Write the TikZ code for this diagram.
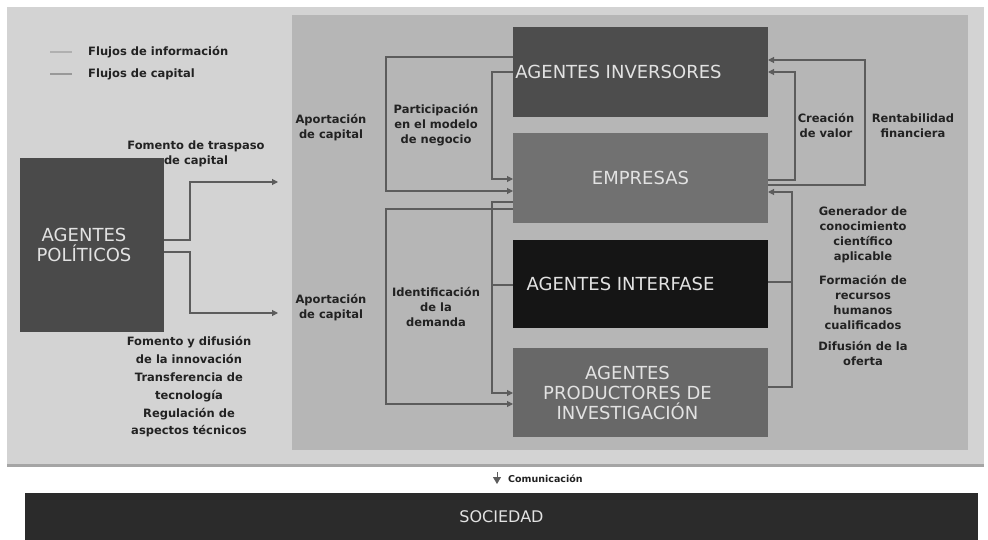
\documentclass[tikz,border=0pt]{standalone}
\usepackage{fontspec}
\setmainfont{DejaVu Sans}
\usetikzlibrary{arrows.meta}
\definecolor{outerbg}{HTML}{D3D3D3}
\definecolor{innerbg}{HTML}{B6B6B6}
\definecolor{invc}{HTML}{4D4D4D}
\definecolor{empc}{HTML}{717171}
\definecolor{intc}{HTML}{151515}
\definecolor{prodc}{HTML}{686868}
\definecolor{polc}{HTML}{4A4A4A}
\definecolor{socc}{HTML}{2B2B2B}
\definecolor{boxtxt}{HTML}{E2E2E2}
\definecolor{linec}{HTML}{5C5C5C}
\definecolor{lbltxt}{HTML}{222222}
\definecolor{infoc}{HTML}{B0B0B0}
\definecolor{capc}{HTML}{999999}
\definecolor{shadowc}{HTML}{A5A5A5}
\begin{document}
\begin{tikzpicture}[x=1pt,y=-1pt,
  agent/.style={rectangle,inner sep=0pt,outer sep=0pt,minimum width=255pt,text=boxtxt,font=\fontsize{18}{20}\selectfont,align=center},
  boxlbl/.style={text=boxtxt,font=\fontsize{18}{20}\selectfont,align=center,inner sep=0pt},
  lbl/.style={font=\bfseries\fontsize{11.5}{15}\selectfont,text=lbltxt,align=center,inner sep=0pt},
  flow/.style={draw=linec,line width=1.1pt},
  flowto/.style={flow,-{Triangle[length=6pt,width=6pt]}}
]
\useasboundingbox (0,0) rectangle (988,540);
\fill[white] (0,0) rectangle (988,540);
% panels
\fill[outerbg] (7,7) rectangle (984,464);
\draw[shadowc,line width=3pt] (7,465) -- (984,465);
\fill[innerbg] (292,15) rectangle (968,450);

% legend
\coordinate (lg1a) at (50,52); \coordinate (lg1b) at (72,52);
\coordinate (lg2a) at (50,74); \coordinate (lg2b) at (72,74);
\draw[infoc,line width=2pt] (lg1a) -- (lg1b);
\draw[capc,line width=2pt] (lg2a) -- (lg2b);
\node[lbl,anchor=west] (leginfo) at (88,52) {Flujos de información};
\node[lbl,anchor=west] (legcap) at (88,74) {Flujos de capital};

% main boxes
\node[agent,fill=invc,minimum height=90pt,
  label={[boxlbl,xshift=-22pt]center:AGENTES INVERSORES}] (inv) at (640.5,72) {};
\node[agent,fill=empc,minimum height=90pt] (emp) at (640.5,178) {EMPRESAS};
\node[agent,fill=intc,minimum height=88pt,
  label={[boxlbl,xshift=-20pt]center:AGENTES INTERFASE}] (int) at (640.5,284) {};
\node[agent,fill=prodc,minimum height=89pt,
  label={[boxlbl,xshift=-13pt]center:AGENTES\\PRODUCTORES DE\\INVESTIGACIÓN}] (prod) at (640.5,392.5) {};
\node[agent,fill=polc,minimum width=144pt,minimum height=174pt,
  label={[boxlbl,xshift=-8pt]center:AGENTES\\POLÍTICOS}] (pol) at (92,245) {};
\node[agent,fill=socc,minimum width=953pt,minimum height=47pt,font=\fontsize{16}{18}\selectfont] (soc) at (501.5,516.5) {SOCIEDAD};

% politicos connectors
\coordinate (pA) at (190,240); \coordinate (pB) at (190,182); \coordinate (pC) at (278,182);
\coordinate (pD) at (190,252); \coordinate (pE) at (190,313); \coordinate (pF) at (278,313);
\draw[flowto] (pol.east |- pA) -- (pA) -- (pB) -- (pC);
\draw[flowto] (pol.east |- pD) -- (pD) -- (pE) -- (pF);

% left loops (inversores -> empresas)
\coordinate (a1) at (386,57); \coordinate (a2) at (386,191);
\draw[flowto] (inv.west |- a1) -- (a1) -- (a2) -- (emp.west |- a2);
\coordinate (b1) at (492,72); \coordinate (b2) at (492,179);
\draw[flowto] (inv.west |- b1) -- (b1) -- (b2) -- (emp.west |- b2);

% left loops (empresas -> productores)
\coordinate (c1) at (386,209); \coordinate (c2) at (386,404);
\draw[flowto] (emp.west |- c1) -- (c1) -- (c2) -- (prod.west |- c2);
\coordinate (d1) at (492,202); \coordinate (d2) at (492,393);
\draw[flowto] (emp.west |- d1) -- (d1) -- (d2) -- (prod.west |- d2);
\coordinate (d3) at (492,285);
\draw[flow] (int.west |- d3) -- (d3);

% right loops (empresas -> inversores)
\coordinate (e1) at (865,185); \coordinate (e2) at (865,60);
\draw[flowto] (emp.east |- e1) -- (e1) -- (e2) -- (inv.east |- e2);
\coordinate (f1) at (795,180); \coordinate (f2) at (795,72);
\draw[flowto] (emp.east |- f1) -- (f1) -- (f2) -- (inv.east |- f2);

% right loop (productores -> empresas)
\coordinate (g1) at (792,387); \coordinate (g2) at (792,192);
\draw[flowto] (prod.east |- g1) -- (g1) -- (g2) -- (emp.east |- g2);
\coordinate (g3) at (792,282);
\draw[flow] (int.east |- g3) -- (g3);

% labels
\node[lbl] (lfom) at (196,154) {Fomento de traspaso\\de capital};
\node[lbl,font=\bfseries\fontsize{11.5}{17.8}\selectfont] (lfom2) at (189,387)
  {Fomento y difusión\\de la innovación\\Transferencia de\\tecnología\\Regulación de\\aspectos técnicos};
\node[lbl] (lap1) at (331,127.5) {Aportación\\de capital};
\node[lbl] (lap2) at (331,307.5) {Aportación\\de capital};
\node[lbl] (lpart) at (436,125) {Participación\\en el modelo\\de negocio};
\node[lbl] (lident) at (436,307) {Identificación\\de la\\demanda};
\node[lbl] (lcrea) at (826,125.5) {Creación\\de valor};
\node[lbl] (lrent) at (913,125.5) {Rentabilidad\\financiera};
\node[lbl] (lgen) at (863,234.5) {Generador de\\conocimiento\\científico\\aplicable};
\node[lbl] (lform) at (863,302.5) {Formación de\\recursos\\humanos\\cualificados};
\node[lbl] (ldif) at (863,353.5) {Difusión de la\\oferta};

% comunicacion
\coordinate (t1) at (497,472); \coordinate (t2) at (497,484);
\draw[linec,line width=0.8pt,-{Triangle[length=7pt,width=8pt]}] (t1) -- (t2);
\node[lbl,font=\bfseries\fontsize{9.5}{11}\selectfont,anchor=west] (lcom) at (508,478.5) {Comunicación};
\end{tikzpicture}
\end{document}
